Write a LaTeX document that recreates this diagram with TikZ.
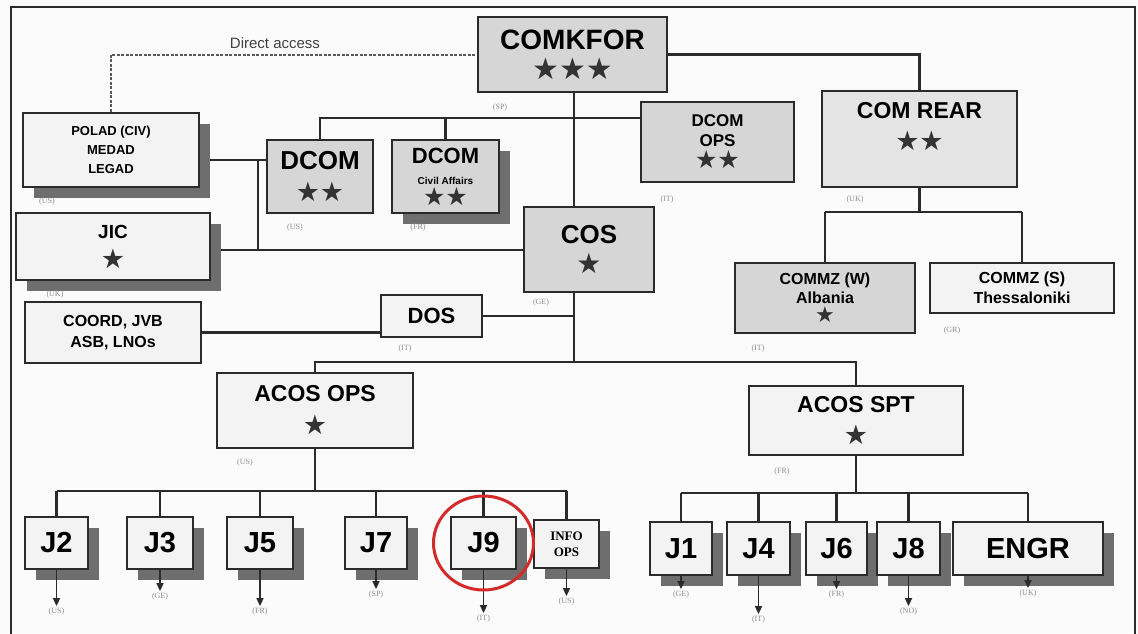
\documentclass[tikz,border=0pt]{standalone}
\usepackage{fontspec}
\setmainfont{Liberation Serif}
\setsansfont{Liberation Sans}
\newfontfamily\starfont{DejaVu Sans}
\usetikzlibrary{arrows.meta,shadows,backgrounds}

\definecolor{page}{HTML}{FBFBFB}
\definecolor{edge}{HTML}{2B2B2B}
\definecolor{boxgray}{HTML}{D6D6D6}
\definecolor{boxlight}{HTML}{F3F3F3}
\definecolor{rearfill}{HTML}{E4E4E4}
\definecolor{shadowgray}{HTML}{6E6E6E}
\definecolor{stargray}{HTML}{333333}
\definecolor{ringred}{HTML}{D42A2A}

\newcommand\sz[2]{\fontsize{#1}{#2}\selectfont}
\newcommand\stars[2]{{\starfont\sz{#1}{#1}\textcolor{stargray}{#2}}}

\begin{document}
\begin{tikzpicture}[
	x=1pt, y=-1pt,
	unit/.style={ draw=edge, line width=2.2pt, fill=boxlight, font=\sffamily\bfseries, align=center, inner sep=0pt },
	unitg/.style={ unit, fill=boxgray },
	fsz/.style 2 args={ font=\sffamily\bfseries\sz{#1}{#2} },
	shade/.style={ general shadow={fill=shadowgray, shadow xshift=11pt, shadow yshift=-11pt} },
	jbox/.style={ unit, shade, fsz={29}{29}, minimum height=52pt },
	link/.style={ draw=edge, line width=2.6pt },
	tie/.style={ draw=edge, line width=1.6pt, -{Triangle[length=8pt,width=7pt]} },
	nation/.style={ font=\rmfamily\sz{8}{8}, text=black!45, inner sep=1.5pt },
	access/.style={ draw=black!65, line width=2pt, dash pattern=on 3pt off 1.5pt },
	ring/.style={ draw=ringred, line width=3pt }
]
\useasboundingbox (0,0) rectangle (1138,633);

% command
\node at (572.5,54.5) (comkfor) [unitg, fsz={28}{30}, minimum width=189pt, minimum height=75pt] {COMKFOR\\\stars{30}{★★★}};
\node at (111,150) (polad) [unit, shade, fsz={13}{19}, minimum width=176pt, minimum height=74pt] {POLAD (CIV)\\MEDAD\\LEGAD};
\node at (275,43) (directaccess) [font=\sffamily\sz{15}{15}, text=black!75] {Direct access};
\node at (320,176.5) (dcom) [unitg, fsz={26}{32}, minimum width=106pt, minimum height=73pt] {DCOM\\\stars{27}{★★}};
\node at (445.5,176.5) (dcomca) [unitg, shade, fsz={22}{21}, minimum width=107pt, minimum height=73pt] {DCOM\\{\sz{10}{12}Civil Affairs}\\\stars{25}{★★}};
\node at (717.5,142) (dcomops) [unitg, fsz={17}{20}, minimum width=153pt, minimum height=80pt] {DCOM\\OPS\\[2pt]\stars{25}{★★}};
\node at (919.5,139) (comrear) [unit, fill=rearfill, fsz={23}{32}, minimum width=195pt, minimum height=96pt, text depth=26pt] {COM REAR\\\stars{27}{★★}};

% staff
\node at (589,249.5) (cos) [unitg, fsz={26}{30}, minimum width=130pt, minimum height=85pt] {COS\\\stars{28}{★}};
\node at (113,246.5) (jic) [unit, shade, fsz={19}{30}, minimum width=194pt, minimum height=67pt] {JIC\\\stars{27}{★}};
\node at (113,332.5) (coord) [unit, fsz={16}{21}, minimum width=176pt, minimum height=61pt] {COORD, JVB\\ASB, LNOs};
\node at (431.5,316) (dos) [unit, fsz={22}{22}, minimum width=101pt, minimum height=42pt] {DOS};
\node at (825,298) (commzw) [unitg, fsz={16}{19}, minimum width=180pt, minimum height=70pt] {COMMZ (W)\\Albania\\\stars{22}{★}};
\node at (1022,288) (commzs) [unit, fsz={16}{20}, minimum width=184pt, minimum height=50pt] {COMMZ (S)\\Thessaloniki};
\node at (315,410.5) (acosops) [unit, fsz={23}{33}, minimum width=196pt, minimum height=75pt] {ACOS OPS\\\stars{27}{★}};
\node at (856,420.5) (acosspt) [unit, fsz={23}{32}, minimum width=214pt, minimum height=69pt] {ACOS SPT\\\stars{27}{★}};

% J branches
\node at (56.5,543) (j2) [jbox, minimum width=63pt] {J2};
\node at (160,543) (j3) [jbox, minimum width=66pt] {J3};
\node at (260,543) (j5) [jbox, minimum width=66pt] {J5};
\node at (376,543) (j7) [jbox, minimum width=62pt] {J7};
\node at (483.5,543) (j9) [jbox, minimum width=65pt] {J9};
\node at (566.5,544) (infoops) [jbox, minimum width=65pt, minimum height=48pt, font=\rmfamily\bfseries\sz{13}{16}] {INFO\\OPS};
\node at (681,548.5) (j1) [jbox, minimum width=62pt, minimum height=53pt] {J1};
\node at (758.5,548.5) (j4) [jbox, minimum width=63pt, minimum height=53pt] {J4};
\node at (836.5,548.5) (j6) [jbox, minimum width=61pt, minimum height=53pt] {J6};
\node at (908.5,548.5) (j8) [jbox, minimum width=63pt, minimum height=53pt] {J8};
\node at (1028,548.5) (engr) [jbox, minimum width=150pt, minimum height=53pt] {ENGR};

% nations
\foreach \nx/\ny/\nt [count=\i] in {500/108/SP, 47/202/US, 295/228/US, 418/228/FR, 667/200/IT, 855/200/UK,
	55/295/UK, 541/303/GE, 405/349/IT, 758/349/IT, 952/331/GR, 245/463/US, 782/472/FR}
	\node at (\nx,\ny) (nat\i) [nation] {(\nt)};

\begin{scope}[on background layer]
\fill[page] (0,0) rectangle (1138,633);
\draw[edge, line width=2.5pt] (11,7) rectangle (1135,645);

\draw[access] (polad.north) |- (comkfor.west);
\draw[link] (comkfor.east) -| (comrear.north);
\coordinate (hub) at (574,362);
\draw[link] (comkfor.south -| hub) -- (hub);
\coordinate (dbar) at (0,118);
\draw[link] (dcom.north) -- (dcom.north |- dbar) -- (dcomops.west |- dbar);
\draw[link] (dcomca.north) -- (dcomca.north |- dbar);
\coordinate (sbtop) at (258,160);
\coordinate (sbbot) at (258,250);
\draw[link] (polad.east |- sbtop) -- (dcom.west |- sbtop);
\draw[link] (sbtop) -- (sbbot);
\draw[link] (jic.east |- sbbot) -- (cos.west |- sbbot);
\draw[link] (coord.east) -- (coord.east -| dos.west);
\draw[link] (dos.east) -- (dos.east -| hub);
\draw[link] (acosops.north) |- (hub) -| (acosspt.north);

\coordinate (rearbus) at (0,212);
\draw[link] (comrear.south) -- (comrear.south |- rearbus);
\draw[link] (commzw.north |- rearbus) -- (commzs.north |- rearbus);
\foreach \c in {commzw,commzs}
	\draw[link] (\c.north |- rearbus) -- (\c.north);

\coordinate (opsbus) at (0,491);
\draw[link] (acosops.south) -- (acosops.south |- opsbus);
\draw[link] (j2.north |- opsbus) -- (infoops.north |- opsbus);
\foreach \c in {j2,j3,j5,j7,j9,infoops}
	\draw[link] (\c.north |- opsbus) -- (\c.north);

\coordinate (sptbus) at (0,493);
\draw[link] (acosspt.south) -- (acosspt.south |- sptbus);
\draw[link] (j1.north |- sptbus) -- (engr.north |- sptbus);
\foreach \c in {j1,j4,j6,j8,engr}
	\draw[link] (\c.north |- sptbus) -- (\c.north);
\end{scope}

% taskings
\foreach \c/\len/\nt in {j2/36/US, j3/21/GE, j5/36/FR, j7/19/SP, j9/43/IT, infoops/27/US,
	j1/13/GE, j4/38/IT, j6/13/FR, j8/30/NO, engr/12/UK}
	\draw[tie] (\c.south) -- ++(0,\len) node[nation, below] (\c-nat) {(\nt)};

\draw[ring] (j9.center) ellipse [x radius=50pt, y radius=47pt];

\end{tikzpicture}
\end{document}
